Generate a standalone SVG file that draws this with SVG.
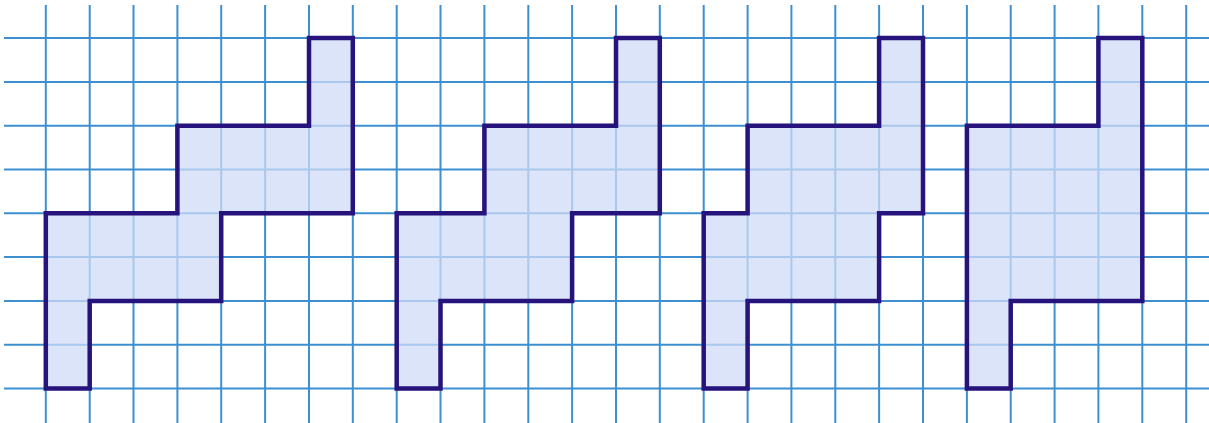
<svg xmlns="http://www.w3.org/2000/svg" width="1209" height="423" viewBox="0 0 1209 423">
<style>
.grid line{stroke:#3d8fd1;stroke-width:2}
.shape{fill:#cfdbf5;fill-opacity:0.75;stroke:#27137c;stroke-width:4.5;stroke-linejoin:miter}
</style>
<rect width="1209" height="423" fill="#ffffff"/>
<g class="grid" id="grid">
<line x1="45.8" y1="5" x2="45.8" y2="423"/>
<line x1="89.7" y1="5" x2="89.7" y2="423"/>
<line x1="133.5" y1="5" x2="133.5" y2="423"/>
<line x1="177.4" y1="5" x2="177.4" y2="423"/>
<line x1="221.2" y1="5" x2="221.2" y2="423"/>
<line x1="265.1" y1="5" x2="265.1" y2="423"/>
<line x1="309" y1="5" x2="309" y2="423"/>
<line x1="352.8" y1="5" x2="352.8" y2="423"/>
<line x1="396.7" y1="5" x2="396.7" y2="423"/>
<line x1="440.5" y1="5" x2="440.5" y2="423"/>
<line x1="484.4" y1="5" x2="484.4" y2="423"/>
<line x1="528.3" y1="5" x2="528.3" y2="423"/>
<line x1="572.1" y1="5" x2="572.1" y2="423"/>
<line x1="616" y1="5" x2="616" y2="423"/>
<line x1="659.8" y1="5" x2="659.8" y2="423"/>
<line x1="703.7" y1="5" x2="703.7" y2="423"/>
<line x1="747.6" y1="5" x2="747.6" y2="423"/>
<line x1="791.4" y1="5" x2="791.4" y2="423"/>
<line x1="835.3" y1="5" x2="835.3" y2="423"/>
<line x1="879.1" y1="5" x2="879.1" y2="423"/>
<line x1="923" y1="5" x2="923" y2="423"/>
<line x1="966.9" y1="5" x2="966.9" y2="423"/>
<line x1="1010.7" y1="5" x2="1010.7" y2="423"/>
<line x1="1054.6" y1="5" x2="1054.6" y2="423"/>
<line x1="1098.4" y1="5" x2="1098.4" y2="423"/>
<line x1="1142.3" y1="5" x2="1142.3" y2="423"/>
<line x1="1186.2" y1="5" x2="1186.2" y2="423"/>
<line x1="4" y1="38.1" x2="1209" y2="38.1"/>
<line x1="4" y1="81.9" x2="1209" y2="81.9"/>
<line x1="4" y1="125.7" x2="1209" y2="125.7"/>
<line x1="4" y1="169.5" x2="1209" y2="169.5"/>
<line x1="4" y1="213.3" x2="1209" y2="213.3"/>
<line x1="4" y1="257.1" x2="1209" y2="257.1"/>
<line x1="4" y1="300.9" x2="1209" y2="300.9"/>
<line x1="4" y1="344.7" x2="1209" y2="344.7"/>
<line x1="4" y1="388.5" x2="1209" y2="388.5"/>
</g>
<g id="shape1">
<path class="shape" d="M45.8,388.5 H89.7 V300.9 H221.2 V213.3 H352.8 V38.1 H309 V125.7 H177.4 V213.3 H45.8 Z"/>
</g>
<g id="shape2">
<path class="shape" d="M396.7,388.5 H440.5 V300.9 H572.1 V213.3 H659.8 V38.1 H616 V125.7 H484.4 V213.3 H396.7 Z"/>
</g>
<g id="shape3">
<path class="shape" d="M703.7,388.5 H747.6 V300.9 H879.1 V213.3 H923 V38.1 H879.1 V125.7 H747.6 V213.3 H703.7 Z"/>
</g>
<g id="shape4">
<path class="shape" d="M966.9,388.5 H1010.7 V300.9 H1142.3 V38.1 H1098.4 V125.7 H966.9 Z"/>
</g>
</svg>
